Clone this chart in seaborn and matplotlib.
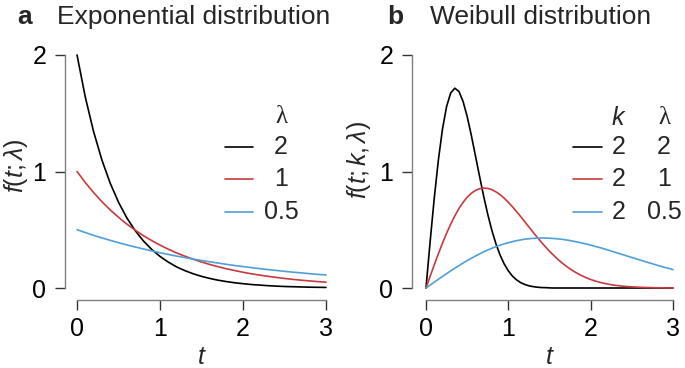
import numpy as np
import pandas as pd
import seaborn as sns
from matplotlib import pyplot as plt

# sample grids (t) for the two panels
t_a = np.linspace(0, 3, 31)
t_b = np.linspace(0, 3, 61)

# panel a: exponential densities
exp_l2 = [2.000, 1.637, 1.341, 1.098, 0.899, 0.736, 0.602, 0.493, 0.404, 0.331,
          0.271, 0.222, 0.181, 0.149, 0.122, 0.100, 0.082, 0.067, 0.055, 0.045,
          0.037, 0.030, 0.025, 0.020, 0.016, 0.013, 0.011, 0.009, 0.007, 0.006, 0.005]
exp_l1 = [1.000, 0.905, 0.819, 0.741, 0.670, 0.607, 0.549, 0.497, 0.449, 0.407,
          0.368, 0.333, 0.301, 0.273, 0.247, 0.223, 0.202, 0.183, 0.165, 0.150,
          0.135, 0.122, 0.111, 0.100, 0.091, 0.082, 0.074, 0.067, 0.061, 0.055, 0.050]
exp_l05 = [0.500, 0.476, 0.452, 0.430, 0.409, 0.389, 0.370, 0.352, 0.335, 0.319,
           0.303, 0.288, 0.274, 0.261, 0.248, 0.236, 0.225, 0.214, 0.203, 0.193,
           0.184, 0.175, 0.166, 0.158, 0.151, 0.143, 0.136, 0.130, 0.123, 0.117, 0.112]

# panel b: Weibull densities (k = 2)
weib_l2 = [0.000, 0.396, 0.769, 1.097, 1.363, 1.558, 1.674, 1.715, 1.687, 1.602,
           1.472, 1.312, 1.137, 0.960, 0.789, 0.632, 0.495, 0.378, 0.282, 0.206,
           0.147, 0.102, 0.070, 0.046, 0.030, 0.019, 0.012, 0.007, 0.004, 0.003,
           0.001, 0.000, 0.000, 0.000, 0.000, 0.000, 0.000, 0.000, 0.000, 0.000,
           0.000, 0.000, 0.000, 0.000, 0.000, 0.000, 0.000, 0.000, 0.000, 0.000,
           0.000, 0.000, 0.000, 0.000, 0.000, 0.000, 0.000, 0.000, 0.000, 0.000, 0.000]
weib_l1 = [0.000, 0.100, 0.198, 0.293, 0.384, 0.470, 0.548, 0.619, 0.682, 0.735,
           0.779, 0.813, 0.837, 0.852, 0.858, 0.855, 0.844, 0.825, 0.801, 0.771,
           0.736, 0.697, 0.656, 0.613, 0.569, 0.524, 0.480, 0.436, 0.394, 0.354,
           0.316, 0.281, 0.247, 0.217, 0.189, 0.164, 0.141, 0.121, 0.103, 0.087,
           0.073, 0.061, 0.051, 0.042, 0.035, 0.028, 0.023, 0.019, 0.015, 0.012,
           0.010, 0.008, 0.006, 0.005, 0.004, 0.003, 0.002, 0.002, 0.001, 0.001, 0.001]
weib_l05 = [0.000, 0.025, 0.050, 0.075, 0.099, 0.123, 0.147, 0.170, 0.192, 0.214,
            0.235, 0.255, 0.274, 0.292, 0.310, 0.326, 0.341, 0.355, 0.368, 0.379,
            0.389, 0.398, 0.406, 0.413, 0.419, 0.423, 0.426, 0.428, 0.429, 0.429,
            0.427, 0.425, 0.422, 0.418, 0.413, 0.407, 0.400, 0.393, 0.385, 0.377,
            0.368, 0.358, 0.349, 0.339, 0.328, 0.317, 0.306, 0.295, 0.284, 0.273,
            0.262, 0.251, 0.240, 0.229, 0.218, 0.208, 0.197, 0.187, 0.177, 0.168, 0.158]

series_names = ["2", "1", "0.5"]
colors = ["black", "#c9393d", "#4f9fd9"]
weib_k = ["2", "2", "2"]

df_a = pd.concat([pd.DataFrame({"t": t_a, "f": v, "lam": n})
                  for v, n in zip([exp_l2, exp_l1, exp_l05], series_names)])
df_b = pd.concat([pd.DataFrame({"t": t_b, "f": v, "lam": n})
                  for v, n in zip([weib_l2, weib_l1, weib_l05], series_names)])

sns.set_theme(style="ticks")
plt.rcParams['font.family'] = ['Liberation Sans', 'DejaVu Sans']
plt.rcParams['mathtext.fontset'] = 'custom'
plt.rcParams['mathtext.rm'] = 'Liberation Sans'
plt.rcParams['mathtext.it'] = 'Liberation Sans:italic'

FS = 18
fig = plt.figure(figsize=(6.85, 3.68), dpi=100)
ax_a = fig.add_axes([65 / 685, 68 / 368, 261 / 685, 245 / 368])
ax_b = fig.add_axes([412 / 685, 68 / 368, 261 / 685, 245 / 368])

pal = dict(zip(series_names, colors))
for ax, df in [(ax_a, df_a), (ax_b, df_b)]:
    sns.lineplot(data=df, x="t", y="f", hue="lam", palette=pal, hue_order=series_names,
                 estimator=None, sort=False, legend=False, linewidth=1.2, ax=ax)
    for ln in ax.lines:
        ln.set_clip_on(False)


def style(ax, xleft):
    ax.set_xlim(xleft, 3)
    ax.set_ylim(-0.103, 2)
    for s in ["top", "right"]:
        ax.spines[s].set_visible(False)
    ax.spines["left"].set_bounds(0, 2)
    ax.spines["bottom"].set_bounds(0, 3)
    for s in ["left", "bottom"]:
        ax.spines[s].set_color("#808080")
        ax.spines[s].set_linewidth(1.0)
    ax.set_xticks([0, 1, 2, 3])
    ax.set_yticks([0, 1, 2])
    ax.tick_params(axis="both", length=7.5, width=1.0, color="#333333",
                   labelsize=FS, labelcolor="black")
    ax.tick_params(axis="y", pad=6)
    ax.tick_params(axis="x", pad=5)
    ax.set_xlabel(r"$t$", fontsize=FS)


style(ax_a, -0.145)
style(ax_b, -0.17)

ax_a.set_ylabel(r"$f(t;\lambda)$", fontsize=FS)
ax_b.set_ylabel(r"$f(t;k,\lambda)$", fontsize=FS)
ax_a.yaxis.set_label_coords(-0.135, 0.55)
ax_b.yaxis.set_label_coords(-0.15, 0.57)
ax_a.xaxis.set_label_coords(0.523, -0.185)
ax_b.xaxis.set_label_coords(0.527, -0.185)

# legends drawn by hand: key line + centred value columns
rows = [0.624, 0.494, 0.359]
ax_a.text(0.828, 0.747, "λ", family="Liberation Serif", fontsize=FS, ha="center", va="center",
          transform=ax_a.transAxes)
for y, n, c in zip(rows, series_names, colors):
    ax_a.plot([0.613, 0.720], [y, y], color=c, lw=1.2, transform=ax_a.transAxes, clip_on=False)
    ax_a.text(0.828, y, n, fontsize=FS, ha="center", va="center", transform=ax_a.transAxes)

ax_b.text(0.793, 0.743, r"$k$", fontsize=FS, ha="center", va="center", transform=ax_b.transAxes)
ax_b.text(0.966, 0.743, "λ", family="Liberation Serif", fontsize=FS, ha="center", va="center",
          transform=ax_b.transAxes)
for y, k, n, c in zip(rows, weib_k, series_names, colors):
    ax_b.plot([0.617, 0.728], [y, y], color=c, lw=1.2, transform=ax_b.transAxes, clip_on=False)
    ax_b.text(0.793, y, k, fontsize=FS, ha="center", va="center", transform=ax_b.transAxes)
    ax_b.text(0.966, y, n, fontsize=FS, ha="center", va="center", transform=ax_b.transAxes)

# panel titles
base = 1 - 24 / 368
fig.text(17 / 685, base, "a", fontsize=19, weight="bold", va="baseline")
fig.text(57 / 685, base, "Exponential distribution", fontsize=19, va="baseline")
fig.text(387 / 685, base, "b", fontsize=19, weight="bold", va="baseline")
fig.text(430 / 685, base, "Weibull distribution", fontsize=19, va="baseline")

fig.savefig("out.png", dpi=100)
